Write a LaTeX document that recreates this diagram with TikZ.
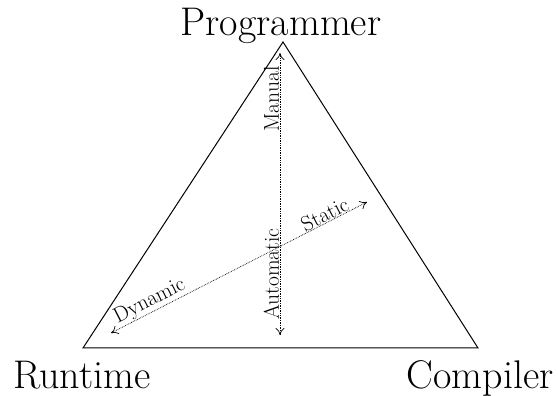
\documentclass[tikz,border=0pt]{standalone}
\usetikzlibrary{arrows.meta}
\begin{document}
\begin{tikzpicture}[x=1pt,y=1pt,
  corner/.style={inner sep=0pt,anchor=base,font=\fontsize{40}{44}\selectfont},
  axis/.style={densely dotted,line width=0.7pt,{To[length=7pt,width=9pt]}-{To[length=7pt,width=9pt]}},
  axislabel/.style={font=\fontsize{21.5}{24}\selectfont,inner sep=0.5pt,sloped,above},
  edge/.style={line width=1pt}]
\useasboundingbox (0,0) rectangle (558,396);
% corners of the triangle
\coordinate (top) at (283,354);
\coordinate (left) at (83,48);
\coordinate (right) at (478,48);
\draw[edge] (top) -- (left) -- (right) -- cycle;
% corner labels
\node[corner] (prog) at (281,360) {Programmer};
\node[corner] (run) at (82,7) {Runtime};
\node[corner] (comp) at (480,7) {Compiler};
% manual / automatic axis
\coordinate (autoend) at (280,61);
\coordinate (manend) at (280,343);
\draw[axis] (autoend) -- node[axislabel,pos=0.216] (auto) {Automatic}
  node[axislabel,pos=0.837] (man) {Manual} (manend);
% dynamic / static axis
\coordinate (dynend) at (111,63);
\coordinate (statend) at (367,194);
\draw[axis] (dynend) -- node[axislabel,pos=0.17] (dyn) {Dynamic}
  node[axislabel,pos=0.85] (stat) {Static} (statend);
\end{tikzpicture}
\end{document}
